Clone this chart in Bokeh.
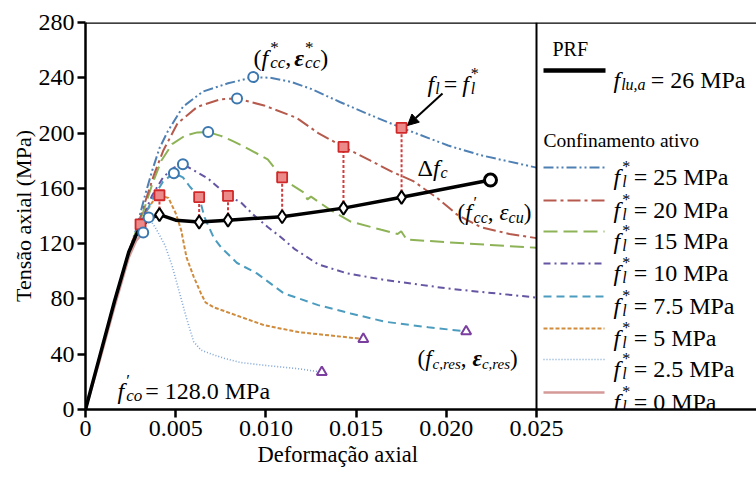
import glob
import os

from bokeh.embed import file_html
from bokeh.models import (Arrow, FixedTicker, Label, NormalHead, PrintfTickFormatter, Range1d,
                          Span, Title)
from bokeh.plotting import figure
from bokeh.resources import INLINE

# ---------------- data ----------------
# shared linear-elastic ascending branch
ascent_strain = [0.0, 0.0008, 0.0016, 0.0024]
ascent_stress = [0.0, 39.0, 78.0, 114.0]

# actively confined curves (lateral pressure f*_l in MPa)
strain_25 = [0.0028, 0.0033, 0.0037, 0.0041, 0.00455, 0.0054, 0.0065, 0.0079, 0.0093, 0.01025,
             0.0114, 0.0125, 0.0141, 0.0158, 0.01752, 0.0201, 0.0219, 0.0250]
stress_25 = [130, 155, 173, 189, 201, 219, 230, 236, 240.5, 240,
             237, 232, 222.5, 213, 203.8, 191, 184, 175]

strain_20 = [0.0028, 0.0033, 0.0038, 0.0043, 0.0051, 0.0062, 0.0075, 0.0084, 0.0099, 0.0117,
             0.0129, 0.0143, 0.0158, 0.0170, 0.0182, 0.0195, 0.0206, 0.0219, 0.0235, 0.0250]
stress_20 = [129, 150, 170, 187, 207, 219, 224.5, 225, 220, 211,
             200, 190, 180, 172, 165, 153, 141, 132, 127, 124]

strain_15 = [0.0028, 0.0032, 0.0037, 0.0042, 0.0048, 0.0055, 0.0062, 0.0068, 0.0075, 0.0082,
             0.0091, 0.0101, 0.0109, 0.0115, 0.0121, 0.0123, 0.0125, 0.0135, 0.0147, 0.0164,
             0.0173, 0.0175, 0.0178, 0.0201, 0.0250]
stress_15 = [129, 143, 163, 180, 192, 198, 200.5, 200.7, 198, 194,
             188, 181, 168, 162, 157, 152, 154, 145, 136, 130,
             127, 129, 123, 121, 117]

strain_10 = [0.0028, 0.0032, 0.0037, 0.0043, 0.0049, 0.0054, 0.0060, 0.0068, 0.0079, 0.0086,
             0.0093, 0.0101, 0.0108, 0.0116, 0.0129, 0.0145, 0.0167, 0.0201, 0.0250]
stress_10 = [128, 140, 155, 168, 175, 177.5, 173, 167, 154.5, 150,
             141, 132, 125, 116, 105, 98.5, 93.5, 87.5, 81]

strain_7p5 = [0.0028, 0.0032, 0.0037, 0.0043, 0.0049, 0.0054, 0.0058, 0.0063, 0.0066, 0.0071,
              0.0075, 0.0084, 0.0095, 0.0110, 0.0129, 0.0147, 0.0166, 0.0190, 0.0211]
stress_7p5 = [127, 138, 152, 165, 171, 168, 161, 153.7, 139, 124.5,
              117.5, 106, 98.5, 84, 75.5, 69.5, 63.5, 59.5, 56.5]

strain_5 = [0.0028, 0.0033, 0.0037, 0.0041, 0.0046, 0.0050, 0.0053, 0.0056, 0.0060, 0.0064,
            0.00665, 0.0071, 0.0086, 0.0099, 0.0118, 0.0136, 0.0154]
stress_5 = [127, 141, 150, 155, 153, 142, 130, 110, 96, 84,
            77.5, 74, 67, 61, 56, 53.5, 51]

strain_2p5 = [0.0028, 0.0032, 0.0035, 0.0039, 0.0044, 0.0048, 0.0052, 0.0056, 0.0060, 0.0064,
              0.0070, 0.0077, 0.0086, 0.0099, 0.0118, 0.0131]
stress_2p5 = [126, 134, 139, 131, 119, 104, 85, 66, 49, 43,
              40, 37, 34, 32, 29.5, 27]

# unconfined curve, slightly softer than the shared branch
strain_0 = [0.0, 0.0008, 0.0016, 0.0024, 0.0028, 0.0032]
stress_0 = [0.0, 36, 74, 110, 122, 128]

# FRP-confined curve (f_lu,a = 26 MPa)
strain_prf = [0.0028, 0.00305, 0.0036, 0.0041, 0.0050, 0.0063, 0.0079, 0.0109, 0.0143, 0.01752, 0.02245]
stress_prf = [126, 132, 138.5, 141, 137, 135.6, 137, 139.5, 145.7, 153.5, 166]

# points where the FRP confining pressure equals the active pressure (f_l = f*_l)
cross_strain = [0.00305, 0.0041, 0.0063, 0.0079, 0.0109, 0.0143, 0.01752]
cross_stress_prf = [132, 141, 135.6, 137, 139.5, 145.7, 153.5]
cross_stress_active = [134, 155, 153.7, 154.5, 168, 190, 203.8]

# peak points (f*_cc, eps*_cc)
peak_strain = [0.0032, 0.0035, 0.0049, 0.0054, 0.0068, 0.0084, 0.0093]
peak_stress = [128, 139, 171, 177.5, 200.7, 225, 240.5]

# residual points (f_c,res, eps_c,res)
res_strain = [0.0131, 0.0154, 0.0211]
res_stress = [27, 51, 56.5]

# ultimate point of the FRP curve (f'_cc, eps_cu)
ult_strain = [0.02245]
ult_stress = [166]

pressure_labels = ["25", "20", "15", "10", "7.5", "5", "2.5", "0"]
x_ticks = [0, 0.005, 0.010, 0.015, 0.020, 0.025]
y_ticks = [0, 40, 80, 120, 160, 200, 240, 280]

# (x, y, colour, dash, width, shares the elastic branch)
series = [
    (strain_25, stress_25, "#4f80b4", "10 3 2 3 2 3", 2.0, True),
    (strain_20, stress_20, "#b55a4c", "13 4 3 4", 2.0, True),
    (strain_15, stress_15, "#8db356", "14 6", 2.0, True),
    (strain_10, stress_10, "#6655a3", "7 4 2 4", 2.0, True),
    (strain_7p5, stress_7p5, "#4b9cbf", "8 5", 2.0, True),
    (strain_5, stress_5, "#d08c3c", "4 2", 2.0, True),
    (strain_2p5, stress_2p5, "#7fa6d6", "1 2", 1.6, True),
    (strain_0, stress_0, "#d49a98", "solid", 2.5, False),
]

# ---------------- layout ----------------
W, H = 756, 477
FRAME_L, FRAME_T, FRAME_B = 85, 22, 409
X_LAST_TICK = 0.025
PX_LAST_TICK = 536
PX_PER_STRAIN = (PX_LAST_TICK - FRAME_L) / X_LAST_TICK
X_END = (W - FRAME_L) / PX_PER_STRAIN
Y_END = 280
PX_PER_MPA = (FRAME_B - FRAME_T) / Y_END
NB = "\u00a0"  # non-collapsing space for SVG text


def sx(px):
    return (px - FRAME_L) / PX_PER_STRAIN


def sy(py):
    return (FRAME_B - py) / PX_PER_MPA


SERIF = "Liberation Serif"
_FONT_FILES = {
    "normal": "LiberationSerif-Regular.ttf",
    "italic": "LiberationSerif-Italic.ttf",
    "bold italic": "LiberationSerif-BoldItalic.ttf",
}
_font_cache = {}


def measure(text, style, size):
    key = (style, size)
    if key not in _font_cache:
        font = None
        try:
            from PIL import ImageFont
            roots = ["/usr/share/fonts", "/usr/local/share/fonts",
                     os.path.expanduser("~/.fonts"), os.path.expanduser("~/.local/share/fonts")]
            for root in roots:
                hits = glob.glob(os.path.join(root, "**", _FONT_FILES[style]), recursive=True)
                if hits:
                    font = ImageFont.truetype(hits[0], size)
                    break
        except Exception:
            font = None
        _font_cache[key] = font
    font = _font_cache[key]
    if font is not None:
        return font.getlength(text.replace(NB, " "))
    return 0.5 * size * len(text)


def rich_text(p, x, y, runs, color="black"):
    """Lay out runs (text, style, size, rise[, pad]) left to right.
    A list inside runs is stacked at one position (superscript over subscript)."""
    dx = 0.0
    for run in runs:
        group = run if isinstance(run, list) else [run]
        adv = 0.0
        for item in group:
            text, style, size, rise = item[:4]
            pad = item[4] if len(item) > 4 else 0.0
            p.add_layout(Label(x=x, y=y, x_offset=dx, y_offset=rise, text=text,
                               text_font=SERIF, text_font_style=style,
                               text_font_size=f"{size}px", text_color=color,
                               text_baseline="alphabetic", text_align="left"))
            adv = max(adv, measure(text, style, size) + pad)
        dx += adv


p = figure(width=W, height=H, x_range=Range1d(0, X_END), y_range=Range1d(0, Y_END),
           output_backend="svg", toolbar_location=None,
           min_border_left=FRAME_L, min_border_right=0,
           min_border_top=FRAME_T, min_border_bottom=H - FRAME_B)
p.background_fill_color = "white"
p.border_fill_color = "white"
p.outline_line_color = None
p.grid.visible = False

# axes
for ax in (p.xaxis[0], p.yaxis[0]):
    ax.axis_line_width = 2.5
    ax.axis_line_color = "black"
    ax.major_tick_line_width = 2.5
    ax.major_tick_out = 8
    ax.major_tick_in = 0
    ax.minor_tick_line_color = None
    ax.major_label_text_font = SERIF
    ax.major_label_text_font_size = "24px"
    ax.major_label_text_color = "black"
    ax.axis_label_text_font = SERIF
    ax.axis_label_text_font_size = "22px"
    ax.axis_label_text_font_style = "normal"
    ax.axis_label_text_color = "black"
    ax.major_label_standoff = 3

p.xaxis.ticker = FixedTicker(ticks=x_ticks)
p.xaxis.formatter = PrintfTickFormatter(format="%.3f")
p.xaxis.major_label_overrides = {0: "0"}
p.yaxis.ticker = FixedTicker(ticks=y_ticks)
p.yaxis.axis_label = "Tensão axial (MPa)"
p.yaxis.axis_label_standoff = 0

# x-axis title placed under the strain scale (not under the legend panel)
p.add_layout(Title(text="Deformação axial", align="left", offset=257 - FRAME_L, standoff=3,
                   text_font=SERIF, text_font_size="22.5px", text_font_style="normal",
                   text_color="black"), "below")

# frame top line and the divider before the legend panel
p.add_layout(Span(location=Y_END, dimension="width", line_color="black", line_width=2.5))
p.add_layout(Span(location=X_LAST_TICK, dimension="height", line_color="black", line_width=2))

# curves: actively confined, drawn from lowest pressure upward
for xs, ys, color, dash, width, shared in reversed(series):
    px_ = ascent_strain + xs if shared else xs
    py_ = ascent_stress + ys if shared else ys
    p.line(px_, py_, line_color=color, line_dash=dash, line_width=width)

# FRP-confined curve
p.line(ascent_strain + strain_prf, ascent_stress + stress_prf, line_color="black", line_width=3.5)

# vertical links between the FRP curve and the active curve at f_l = f*_l
p.segment(x0=cross_strain, y0=cross_stress_prf, x1=cross_strain, y1=cross_stress_active,
          line_color="#d23c3c", line_dash="3 2", line_width=2)

p.scatter(cross_strain, cross_stress_prf, marker="diamond", size=13, fill_color="white",
          line_color="black", line_width=2)
p.scatter(cross_strain, cross_stress_active, marker="square", size=10, fill_color="#ec8a8a",
          line_color="#d02828", line_width=1.8)
p.scatter(peak_strain, peak_stress, marker="circle", size=10, fill_color="white",
          line_color="#3c78b0", line_width=2)
p.scatter(res_strain, res_stress, marker="triangle", size=10, fill_color="white",
          line_color="#7b3fa0", line_width=2)
p.scatter(ult_strain, ult_stress, marker="circle", size=12, fill_color="white",
          line_color="black", line_width=3)

# annotations
rich_text(p, sx(253), sy(57), [
    ("(", "normal", 24, 0), ("f", "italic", 24, 0, 2),
    [("*", "normal", 17, 10), ("cc", "italic", 17, -5)],
    (",", "normal", 24, 0, 3), ("ε", "bold italic", 24, 0, 1),
    [("*", "normal", 17, 10), ("cc", "italic", 17, -5)],
    (")", "normal", 24, 0)])

rich_text(p, sx(427), sy(83), [
    ("f", "italic", 24, 0, 1), ("l", "italic", 16, -5, 4), ("=", "normal", 24, 0, 5),
    ("f", "italic", 24, 0, 2), [("*", "normal", 16, 10), ("l", "italic", 16, -5)]])

p.add_layout(Arrow(x_start=sx(442), y_start=sy(93), x_end=sx(407), y_end=sy(125),
                   line_color="black", line_width=2,
                   end=NormalHead(size=11, fill_color="black", line_color="black")))

rich_text(p, sx(417), sy(167), [
    ("Δ", "normal", 24, 0), ("f", "italic", 24, 0, 1), ("c", "italic", 16, -5)])

rich_text(p, sx(457), sy(212), [
    ("(", "normal", 23, 0), ("f", "italic", 23, 0, 2),
    [("′", "normal", 16, 10), ("cc", "italic", 16, -5)],
    (",", "normal", 23, 0, 6), ("ε", "italic", 23, 0), ("cu", "italic", 16, -5),
    (")", "normal", 23, 0)])

rich_text(p, sx(117), sy(390), [
    ("f", "italic", 24, 0, 2),
    [("′", "normal", 17, 10), ("co", "italic", 17, -5, 3)],
    ("=" + NB + "128.0" + NB + "MPa", "normal", 24, 0)])

rich_text(p, sx(417), sy(358), [
    ("(", "normal", 23, 0), ("f", "italic", 23, 0, 1), ("c,res", "italic", 15, -5),
    (",", "normal", 23, 0, 6), ("ε", "bold italic", 23, 0), ("c,res", "italic", 15, -5),
    (")", "normal", 23, 0)])

# legend panel
LEG_X0, LEG_X1, LEG_TXT = 543, 604, 613
rich_text(p, sx(552), sy(48), [("PRF", "normal", 20, 0)])
p.line([sx(LEG_X0), sx(LEG_X1 + 1)], [sy(70), sy(70)], line_color="black", line_width=4.5)
rich_text(p, sx(LEG_TXT), sy(79), [
    ("f", "italic", 24, 0, 1), ("lu,a", "italic", 16, -5, 5),
    ("=" + NB + "26" + NB + "MPa", "normal", 24, 0)])

rich_text(p, sx(LEG_X0), sy(140), [("Confinamento" + NB + "ativo", "normal", 19.5, 0)])
row_y = [167, 200, 231, 263, 296, 328, 359, 392]
for (xs, ys, color, dash, width, _), lab, cy in zip(series, pressure_labels, row_y):
    p.line([sx(LEG_X0), sx(LEG_X1)], [sy(cy), sy(cy)], line_color=color, line_dash=dash,
           line_width=width)
    rich_text(p, sx(LEG_TXT), sy(cy + 9), [
        ("f", "italic", 24, 0, 2), [("*", "normal", 16, 10), ("l", "italic", 16, -5, 7)],
        ("=" + NB + lab + NB + "MPa", "normal", 24, 0)])

open("out.html", "w").write(file_html(p, INLINE))
